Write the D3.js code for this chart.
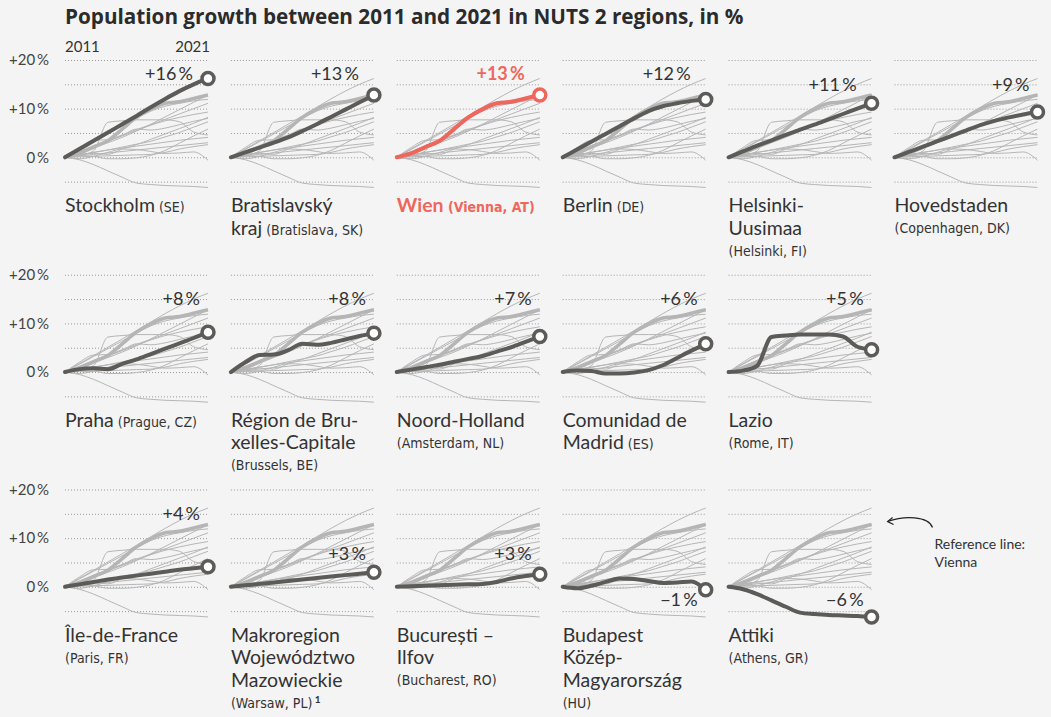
<!DOCTYPE html>
<html>
<head>
<meta charset="utf-8">
<script src="https://cdn.jsdelivr.net/npm/d3@7"></script>
<style>
  body { margin: 0; background: #f4f4f4; }
  svg { display: block; font-family: Lato, "Open Sans", sans-serif; }
  .grid line { stroke: #9a9a9a; stroke-dasharray: 1,2; }
  .sub { font-family: "Liberation Sans Narrow", "DejaVu Sans Condensed", Lato, sans-serif; }
</style>
</head>
<body>
<svg width="1051" height="717"></svg>
<script>
// population change vs 2011, in %
var years = [2011, 2012, 2013, 2014, 2015, 2016, 2017, 2018, 2019, 2020, 2021];

var stockholm    = [0, 1.7, 3.4, 5.1, 6.8, 8.5, 10.3, 12.0, 13.6, 15.0, 16.2];
var bratislava   = [0, 1.0, 2.0, 3.0, 4.1, 5.4, 6.8, 8.3, 9.8, 11.3, 12.8];
var wien         = [0, 0.8, 2.1, 3.4, 5.8, 8.2, 9.9, 11.1, 11.4, 12.1, 12.8];
var berlin       = [0, 1.6, 3.2, 4.8, 6.4, 8.0, 9.5, 10.5, 11.1, 11.6, 11.9];
var helsinki     = [0, 1.2, 2.4, 3.5, 4.6, 5.7, 6.7, 7.8, 8.9, 10.0, 11.1];
var hovedstaden  = [0, 1.1, 2.2, 3.3, 4.4, 5.5, 6.6, 7.5, 8.2, 8.8, 9.3];
var praha        = [0, 0.6, 0.8, 0.6, 1.7, 2.6, 3.7, 4.8, 5.9, 7.0, 8.2];
var bruxelles    = [0, 2.0, 3.5, 3.6, 4.5, 5.8, 5.6, 6.0, 6.7, 7.4, 8.0];
var noordHolland = [0, 0.5, 1.0, 1.5, 2.1, 2.7, 3.3, 4.2, 5.1, 6.2, 7.3];
var madrid       = [0, 0.3, 0.2, -0.3, -0.3, -0.1, 0.4, 1.4, 2.9, 4.4, 5.8];
var lazio        = [0, 0.3, 1.3, 7.2, 7.5, 7.7, 7.7, 7.7, 7.3, 5.2, 4.6];
var ileDeFrance  = [0, 0.5, 1.0, 1.5, 1.9, 2.3, 2.7, 3.1, 3.5, 3.8, 4.1];
var mazowieckie  = [0, 0.3, 0.6, 0.9, 1.2, 1.5, 1.8, 2.1, 2.4, 2.7, 3.0];
var bucuresti    = [0, 0.1, 0.2, 0.3, 0.4, 0.5, 0.6, 1.0, 1.7, 2.2, 2.6];
var budapest     = [0, -0.3, 0.2, 1.0, 1.7, 1.6, 1.2, 0.8, 0.9, 1.1, -0.6];
var attiki       = [0, -0.5, -1.5, -2.8, -4.1, -5.3, -5.6, -5.8, -5.9, -6.0, -6.2];

var series = [stockholm, bratislava, wien, berlin, helsinki, hovedstaden,
              praha, bruxelles, noordHolland, madrid, lazio,
              ileDeFrance, mazowieckie, bucuresti, budapest, attiki];

// how many panels in each row
var rowSizes = [6, 5, 5];

// name lines: [main text, note in brackets]
var names = [
  [["Stockholm", "(SE)"]],
  [["Bratislavský"], ["kraj", "(Bratislava, SK)"]],
  [["Wien", "(Vienna, AT)"]],
  [["Berlin", "(DE)"]],
  [["Helsinki-"], ["Uusimaa"], ["", "(Helsinki, FI)"]],
  [["Hovedstaden"], ["", "(Copenhagen, DK)"]],
  [["Praha", "(Prague, CZ)"]],
  [["Région de Bru-"], ["xelles-Capitale"], ["", "(Brussels, BE)"]],
  [["Noord-Holland"], ["", "(Amsterdam, NL)"]],
  [["Comunidad de"], ["Madrid", "(ES)"]],
  [["Lazio"], ["", "(Rome, IT)"]],
  [["Île-de-France"], ["", "(Paris, FR)"]],
  [["Makroregion"], ["Województwo"], ["Mazowieckie"], ["", "(Warsaw, PL)", "1"]],
  [["București –"], ["Ilfov"], ["", "(Bucharest, RO)"]],
  [["Budapest"], ["Közép-"], ["Magyarország"], ["", "(HU)"]],
  [["Attiki"], ["", "(Athens, GR)"]]
];

var yTicks = [0, 10, 20];
var gridTicks = [-5, 0, 5, 10, 15, 20];
var refIndex = 2; // Vienna

var svg = d3.select("svg");
var dark = "#5d5b58", red = "#ef675c", text = "#333";

var colStep = 165.9, rowStep = 214.75, left = 65, top0 = 60;

var x = d3.scaleLinear().domain([2011, 2021]).range([0, 143]);
var y = d3.scaleLinear().domain([0, 20]).range([97.3, 0]);

var line = d3.line()
    .x((d, i) => x(years[i]))
    .y(d => y(d))
    .curve(d3.curveMonotoneX);

svg.append("text")
    .attr("x", 65)
    .attr("y", 24)
    .style("font-family", "'Open Sans', sans-serif")
    .style("font-size", "20.7px")
    .style("font-weight", 700)
    .attr("fill", "#2b2b2b")
    .text("Population growth between 2011 and 2021 in NUTS 2 regions, in %");

svg.append("text").attr("x", x(2011) + left).attr("y", 52)
    .style("font-size", "15px").attr("fill", text).text("2011");
svg.append("text").attr("x", x(2021) + left + 2).attr("y", 52)
    .attr("text-anchor", "end")
    .style("font-size", "15px").attr("fill", text).text("2021");

function fmt(v) {
    var r = Math.round(v);
    return (r > 0 ? "+" : r < 0 ? "\u2212" : "") + Math.abs(r) + "\u2009%";
}

// rough rule for where the end label sits
function labelLevel(v) {
    if (v >= 11.5) return 15.8;
    if (v >= 4) return 13.7;
    if (v >= 0) return 5.6;
    return -3.9;
}

// panel position from the index
function cell(i) {
    var row = 0, k = i;
    while (k >= rowSizes[row]) { k -= rowSizes[row]; row++; }
    return { row: row, col: k };
}

series.forEach(function (vals, i) {
    var p = cell(i), col = p.col, row = p.row;
    var g = svg.append("g")
        .attr("transform", "translate(" + (left + col * colStep) + "," + (top0 + row * rowStep) + ")");
    var isRef = i === refIndex;
    var c = isRef ? red : dark;

    g.append("g").attr("class", "grid")
      .selectAll("line")
      .data(gridTicks)
      .enter().append("line")
        .attr("x1", 0).attr("x2", x(2021))
        .attr("y1", d => y(d) + 0.5).attr("y2", d => y(d) + 0.5);

    if (col === 0) {
        var ax = g.append("g")
            .attr("transform", "translate(-16,0)")
            .call(d3.axisLeft(y).tickValues(yTicks).tickSize(0).tickPadding(0).tickFormat(fmt));
        ax.select(".domain").remove();
        ax.selectAll("text")
            .attr("dy", "0.32em")
            .style("font-family", "Lato, sans-serif")
            .style("font-size", "15px")
            .attr("fill", "#444");
    }

    g.selectAll(".bg")
        .data(series)
        .enter().append("path")
        .attr("class", "bg")
        .attr("d", line)
        .attr("fill", "none")
        .attr("stroke", "#b6b6b6")
        .attr("stroke-width", 1);

    g.append("path")
        .attr("d", line(series[refIndex]))
        .attr("fill", "none")
        .attr("stroke", "#b5b5b5")
        .attr("stroke-width", 3.5);

    g.append("path")
        .attr("d", line(vals))
        .attr("fill", "none")
        .attr("stroke", c)
        .attr("stroke-width", 4)
        .attr("stroke-linejoin", "round")
        .attr("stroke-linecap", "round");

    var last = vals[vals.length - 1];
    g.append("circle")
        .attr("cx", x(2021))
        .attr("cy", y(last))
        .attr("r", 6)
        .attr("fill", "#fff")
        .attr("stroke", c)
        .attr("stroke-width", 3.5);

    g.append("text")
        .attr("x", x(2021) - (Math.abs(Math.round(last)) >= 10 ? 15 : 8))
        .attr("y", y(labelLevel(last)))
        .attr("text-anchor", "end")
        .style("font-size", "18px")
        .style("font-weight", isRef ? 700 : 400)
        .attr("fill", isRef ? red : text)
        .text(fmt(last));

    // region name
    var ty = 152;
    names[i].forEach(function (ln, k) {
        if (k > 0) ty += ln[0] ? 22.5 : 21;
        var t = g.append("text")
            .attr("x", 0).attr("y", ty)
            .attr("fill", isRef ? red : text)
            .style("font-weight", isRef ? 700 : 400);
        if (ln[0]) t.append("tspan").style("font-size", "19.5px").text(ln[0]);
        if (ln[1]) t.append("tspan").attr("class", "sub")
            .style("font-size", "14px")
            .text((ln[0] ? " " : "") + ln[1]);
        if (ln[2]) t.append("tspan")
            .attr("dy", -5)
            .style("font-size", "10px")
            .style("font-weight", 700)
            .text(" " + ln[2]);
    });
});

// annotation for the reference line, right of the last panel
var lastCell = cell(series.length - 1);
var ax0 = left + (lastCell.col + 1) * colStep, ay0 = top0 + lastCell.row * rowStep;
var tipX = left + lastCell.col * colStep + x(2021) + 16;
var tipY = ay0 + y(wien[wien.length - 1]) - 3;
svg.append("path")
    .attr("d", "M" + (ax0 + 38) + "," + (tipY + 6) + " C" + (ax0 + 34) + "," + (tipY - 6) + " " + (tipX + 16) + "," + (tipY - 6) + " " + tipX + "," + tipY)
    .attr("fill", "none")
    .attr("stroke", "#222")
    .attr("stroke-width", 1.2);
svg.append("path")
    .attr("d", "M" + (tipX + 5) + "," + (tipY - 4) + " L" + tipX + "," + tipY + " L" + (tipX + 6) + "," + (tipY + 3))
    .attr("fill", "none")
    .attr("stroke", "#222")
    .attr("stroke-width", 1.2);
svg.append("text").attr("x", ax0 + 40).attr("y", ay0 + y(0) - 38)
    .style("font-size", "14px").attr("fill", text).text("Reference line:");
svg.append("text").attr("x", ax0 + 40).attr("y", ay0 + y(0) - 20)
    .style("font-size", "14px").attr("fill", text).text("Vienna");
</script>
</body>
</html>
